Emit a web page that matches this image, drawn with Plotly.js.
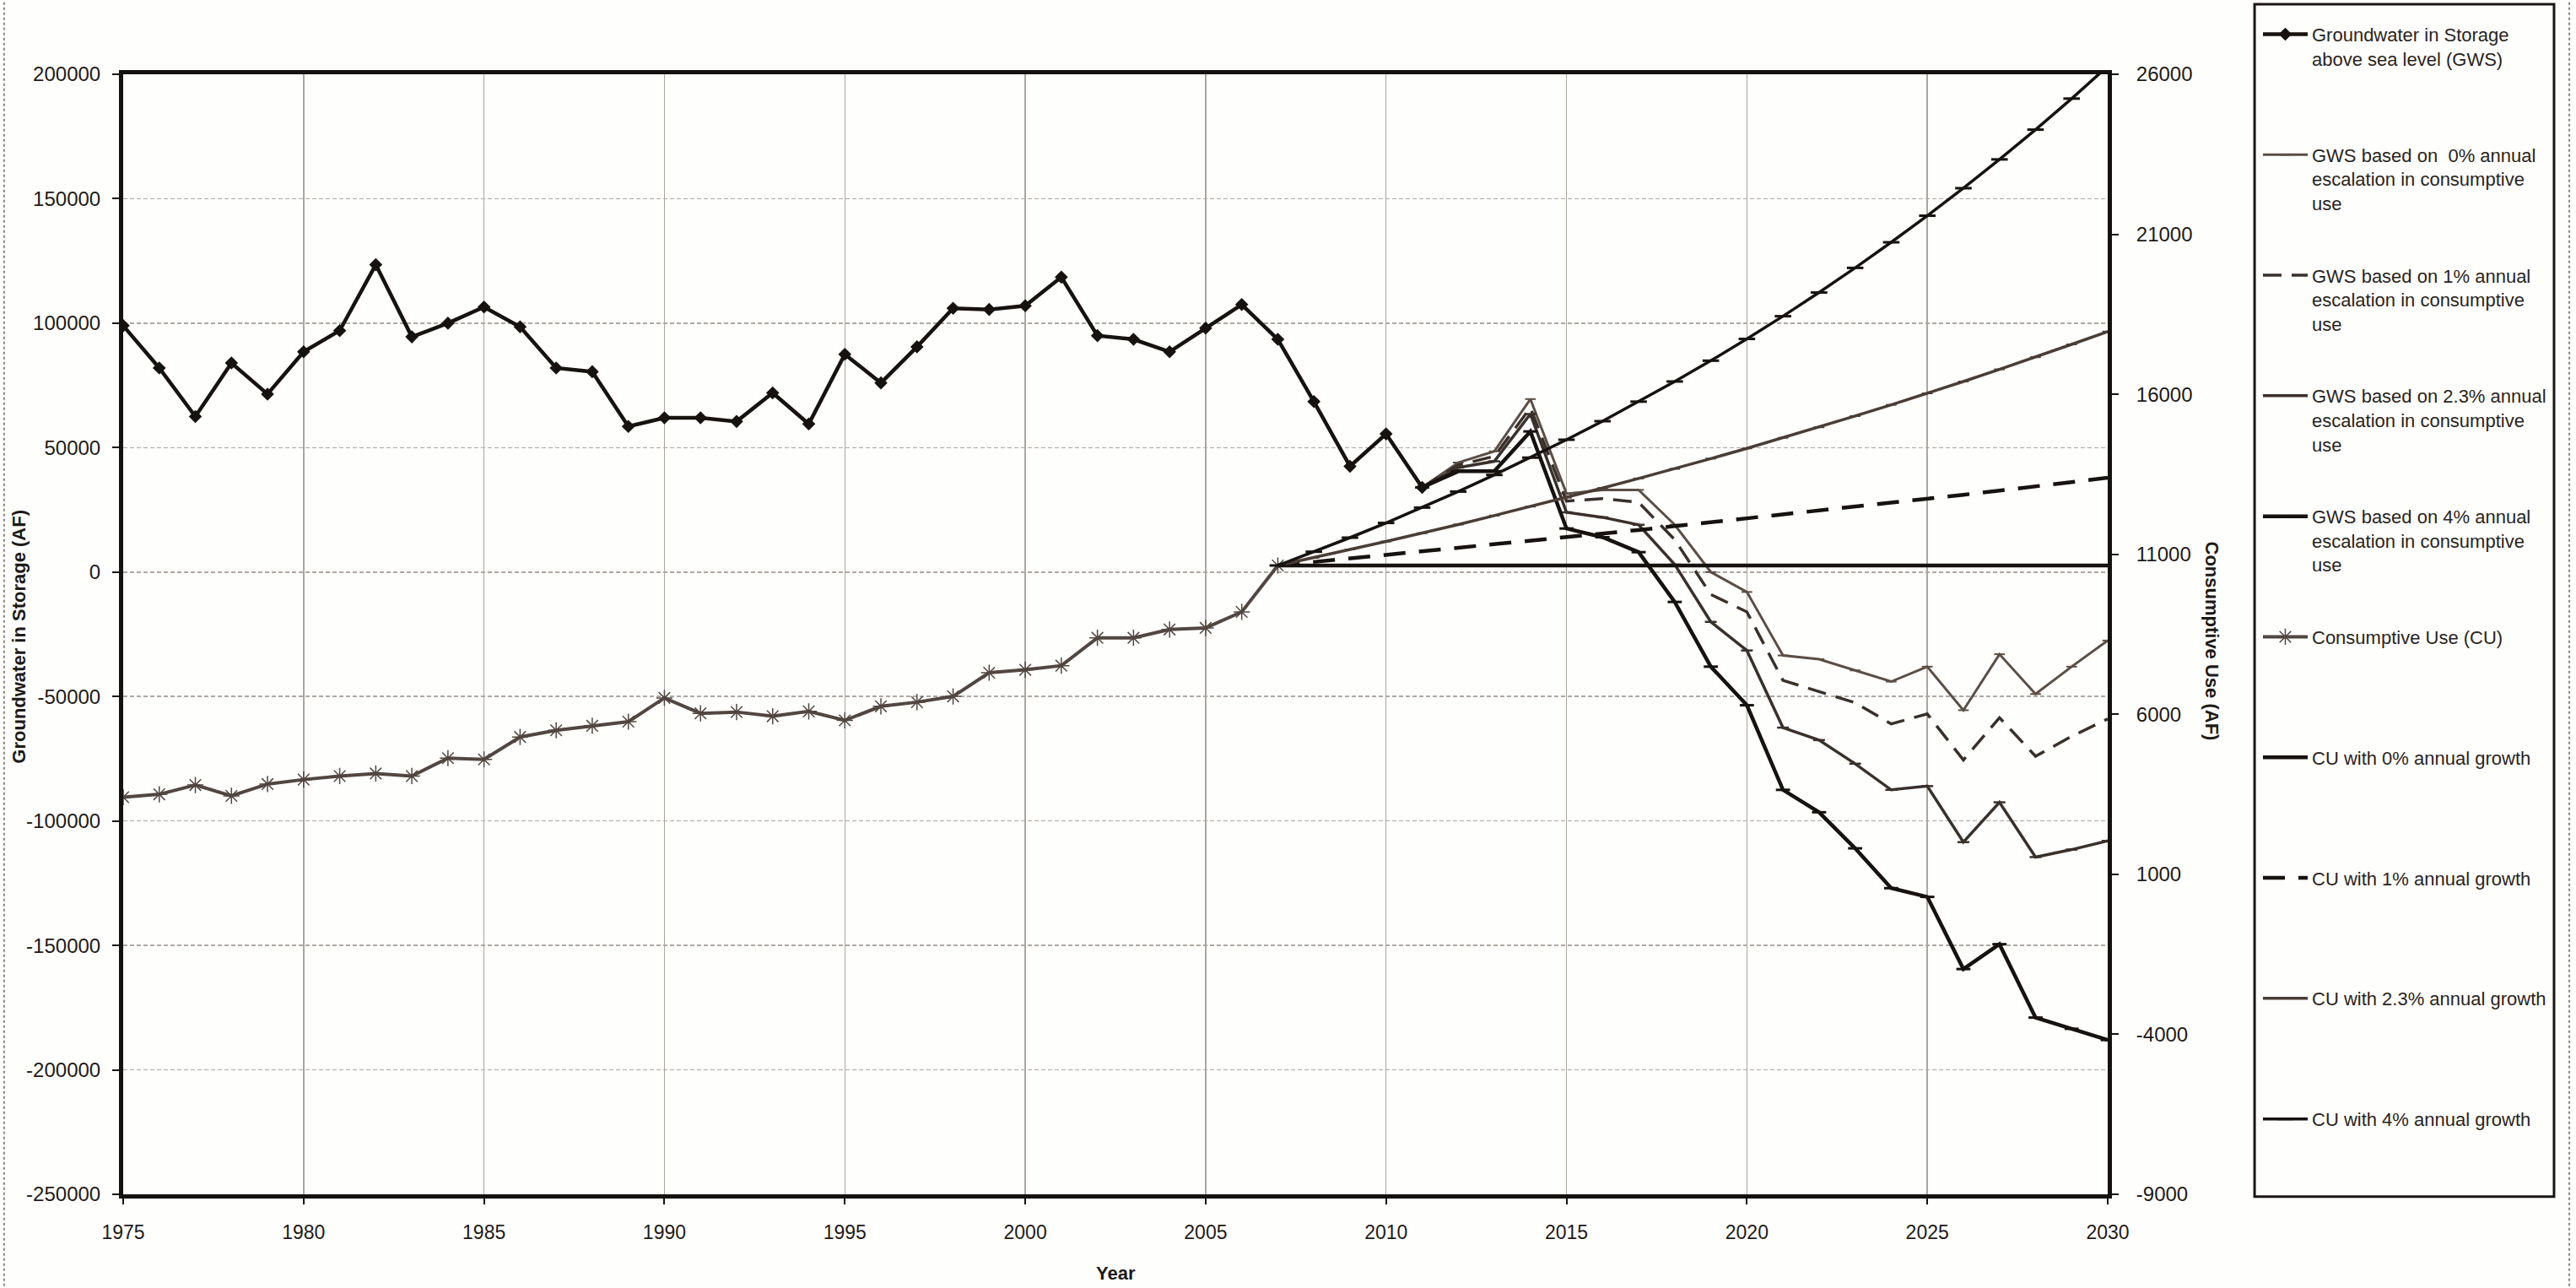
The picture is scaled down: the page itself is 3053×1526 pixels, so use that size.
<!DOCTYPE html>
<html>
<head>
<meta charset="utf-8">
<script src="https://cdn.plot.ly/plotly-3.0.1.min.js"></script>
<style>
  html, body { margin: 0; padding: 0; background: #fefefd; }
  #chart { width: 3053px; height: 1526px; }
</style>
</head>
<body>
<div id="chart"></div>
<script>
// ---------- DATA ----------
const yearsHist = [1975,1976,1977,1978,1979,1980,1981,1982,1983,1984,1985,1986,1987,1988,1989,1990,1991,1992,1993,1994,1995,1996,1997,1998,1999,2000,2001,2002,2003,2004,2005,2006,2007,2008,2009,2010,2011];
const gwsHist = [99000,82000,62500,84000,71500,88500,97000,123500,94500,100000,106500,98500,82000,80500,58500,62000,62000,60500,72000,59500,87500,76000,90500,106000,105500,107000,118500,95000,93500,88500,98000,107500,93500,68500,42500,55500,34000];

const yearsProj = [2011,2012,2013,2014,2015,2016,2017,2018,2019,2020,2021,2022,2023,2024,2025,2026,2027,2028,2029,2030];
const gws0 = [34000,44000,48500,69500,31500,33000,33000,19000,0,-8000,-33500,-35000,-39500,-44000,-38000,-55500,-33000,-49000,-38000,-27500];
const gws1 = [34000,43000,46500,66000,28500,29500,28000,13000,-9000,-16000,-43500,-48000,-52500,-61000,-57000,-75500,-58500,-74000,-66000,-59000];
const gws23 = [34000,42000,44500,63500,24000,22000,19000,3000,-20000,-31500,-62500,-67500,-77000,-87500,-86000,-108500,-92500,-114500,-111500,-108000];
const gws4 = [34000,40500,40500,56500,17500,14000,8000,-12000,-38000,-53500,-87500,-96500,-111000,-127000,-130500,-159500,-149500,-179000,-183500,-188000];

const yearsCU = [1975,1976,1977,1978,1979,1980,1981,1982,1983,1984,1985,1986,1987,1988,1989,1990,1991,1992,1993,1994,1995,1996,1997,1998,1999,2000,2001,2002,2003,2004,2005,2006,2007];
const cuHist = [3410,3500,3790,3450,3820,3960,4070,4150,4070,4630,4590,5290,5500,5640,5770,6510,6030,6070,5940,6090,5810,6250,6380,6560,7300,7390,7520,8390,8390,8650,8700,9200,10650];

const yearsCUProj = [2007,2008,2009,2010,2011,2012,2013,2014,2015,2016,2017,2018,2019,2020,2021,2022,2023,2024,2025,2026,2027,2028,2029,2030];
const cu0 = [10650,10650,10650,10650,10650,10650,10650,10650,10650,10650,10650,10650,10650,10650,10650,10650,10650,10650,10650,10650,10650,10650,10650,10650];
const cu1 = [10650,10760,10860,10970,11080,11190,11300,11420,11530,11650,11760,11880,12000,12120,12240,12360,12490,12610,12740,12860,12990,13120,13250,13390];
const cu23 = [10650,10890,11150,11400,11660,11930,12210,12490,12770,13070,13370,13670,13990,14310,14640,14970,15320,15670,16030,16400,16780,17160,17560,17960];
const cu4 = [10650,11080,11520,11980,12460,12960,13480,14020,14580,15160,15770,16400,17050,17730,18440,19180,19950,20750,21580,22440,23340,24270,25240,26250];

const xTicks = [1975,1980,1985,1990,1995,2000,2005,2010,2015,2020,2025,2030];
const xTickText = ['1975','1980','1985','1990','1995','2000','2005','2010','2015','2020','2025','2030'];
const yTicks = [200000,150000,100000,50000,0,-50000,-100000,-150000,-200000,-250000];
const yTickText = ['200000','150000','100000','50000','0','-50000','-100000','-150000','-200000','-250000'];
const y2Ticks = [26000,21000,16000,11000,6000,1000,-4000,-9000];
const y2TickText = ['26000','21000','16000','11000','6000','1000','-4000','-9000'];

const names = [
  'Groundwater in Storage<br>above sea level (GWS)<br>\u00a0',
  'GWS based on  0% annual<br>escalation in consumptive<br>use',
  'GWS based on 1% annual<br>escalation in consumptive<br>use',
  'GWS based on 2.3% annual<br>escalation in consumptive<br>use',
  'GWS based on 4% annual<br>escalation in consumptive<br>use',
  'Consumptive Use (CU)<br>\u00a0<br>\u00a0',
  'CU with 0% annual growth<br>\u00a0<br>\u00a0',
  'CU with 1% annual growth<br>\u00a0<br>\u00a0',
  'CU with 2.3% annual growth<br>\u00a0<br>\u00a0',
  'CU with 4% annual growth<br>\u00a0<br>\u00a0'
];

// ---------- TRACES ----------
const ink = '#17120f';
const traces = [
  {x: yearsHist, y: gwsHist, name: names[0], legendgroup: 'g0', mode: 'lines+markers', yaxis: 'y',
   line: {color: ink, width: 4.5}, marker: {symbol: 'diamond', size: 12, color: ink}},
  {x: yearsProj, y: gws0, name: names[1], legendgroup: 'g1', mode: 'lines+markers', yaxis: 'y',
   line: {color: '#5c4e45', width: 3}, marker: {symbol: 'line-ew', size: 9, line: {color: '#5c4e45', width: 2}}},
  {x: yearsProj, y: gws1, name: names[2], legendgroup: 'g2', mode: 'lines', yaxis: 'y',
   line: {color: '#3a302a', width: 3.5, dash: '22px,12px'}},
  {x: yearsProj, y: gws23, name: names[3], legendgroup: 'g3', mode: 'lines+markers', yaxis: 'y',
   line: {color: '#3a302a', width: 3.5}, marker: {symbol: 'line-ew', size: 10, line: {color: '#3a302a', width: 2.5}}},
  {x: yearsProj, y: gws4, name: names[4], legendgroup: 'g4', mode: 'lines+markers', yaxis: 'y',
   line: {color: ink, width: 4.5}, marker: {symbol: 'line-ew', size: 12, line: {color: ink, width: 3}}},
  {x: yearsCU, y: cuHist, name: names[5], legendgroup: 'g5', mode: 'lines+markers', yaxis: 'y2',
   line: {color: '#524640', width: 4}, marker: {symbol: 'asterisk-open', size: 16, line: {color: '#7a6c64', width: 1.5}}},
  {x: yearsCUProj, y: cu0, name: names[6], legendgroup: 'g6', mode: 'lines', yaxis: 'y2',
   line: {color: ink, width: 4.5}},
  {x: yearsCUProj, y: cu1, name: names[7], legendgroup: 'g7', mode: 'lines', yaxis: 'y2',
   line: {color: ink, width: 4.5, dash: '26px,16px'}},
  {x: yearsCUProj, y: cu23, name: names[8], legendgroup: 'g8', mode: 'lines+markers', yaxis: 'y2',
   line: {color: '#4a3d35', width: 3.5}, marker: {symbol: 'line-ew', size: 9, line: {color: '#4a3d35', width: 2}}},
  {x: yearsCUProj, y: cu4, name: names[9], legendgroup: 'g9', mode: 'lines+markers', yaxis: 'y2',
   line: {color: ink, width: 3.5}, marker: {symbol: 'line-ew', size: 14, line: {color: ink, width: 3}}}
];

// ---------- LAYOUT ----------
const axisInk = '#15110e';
const layout = {
  width: 3053, height: 1526,
  paper_bgcolor: '#fefefd', plot_bgcolor: '#fefefd',
  margin: {l: 146, r: 555, t: 88, b: 111, pad: 0},
  font: {family: 'Liberation Sans, Arial, sans-serif', color: '#1e1a17', size: 22},
  showlegend: true,
  legend: {
    x: 1.0761, xanchor: 'left', y: 1.0515, yanchor: 'top',
    bgcolor: 'rgba(0,0,0,0)', borderwidth: 0,
    font: {size: 22, color: '#2a2420'},
    itemwidth: 53, tracegroupgap: 54, valign: 'top', traceorder: 'grouped',
    maxheight: 1500
  },
  xaxis: {
    range: [1975, 2030], tickvals: xTicks, ticktext: xTickText,
    showgrid: true, gridcolor: '#aca69f', gridwidth: 1.5,
    showline: true, linecolor: axisInk, linewidth: 5, mirror: true,
    ticks: 'outside', ticklen: 7, tickwidth: 2, tickcolor: axisInk,
    tickfont: {size: 23}, ticklabelstandoff: 13, zeroline: false
  },
  yaxis: {
    range: [-250000, 200000], tickvals: yTicks, ticktext: yTickText,
    showgrid: true, gridcolor: '#aea8a2', gridwidth: 1.6, griddash: '5px,3px',
    showline: true, linecolor: axisInk, linewidth: 5,
    ticks: 'outside', ticklen: 8, tickwidth: 2, tickcolor: axisInk,
    tickfont: {size: 24}, ticklabelstandoff: 9, zeroline: false
  },
  yaxis2: {
    overlaying: 'y', side: 'right', range: [-9000, 26000],
    tickvals: y2Ticks, ticktext: y2TickText,
    showgrid: false, showline: true, linecolor: axisInk, linewidth: 5,
    ticks: 'outside', ticklen: 8, tickwidth: 2, tickcolor: axisInk,
    tickfont: {size: 24}, ticklabelstandoff: 16, zeroline: false
  },
  annotations: [
    {text: '<b>Year</b>', xref: 'paper', yref: 'paper', x: 0.5, y: -0.0708,
     showarrow: false, font: {size: 22}, xanchor: 'center', yanchor: 'middle'},
    {text: '<b>Groundwater in Storage (AF)</b>', xref: 'paper', yref: 'paper', x: -0.0525, y: 0.498,
     showarrow: false, textangle: -90, font: {size: 22}, xanchor: 'center', yanchor: 'middle'},
    {text: '<b>Consumptive Use (AF)</b>', xref: 'paper', yref: 'paper', x: 1.0527, y: 0.494,
     showarrow: false, textangle: 90, font: {size: 22}, xanchor: 'center', yanchor: 'middle'}
  ],
  shapes: [
    {type: 'rect', xref: 'paper', yref: 'paper', x0: 1.0740, x1: 1.2249, y0: -0.002, y1: 1.0625,
     line: {color: '#1a1613', width: 3}, fillcolor: 'rgba(0,0,0,0)'},
    {type: 'line', xref: 'paper', yref: 'paper', x0: -0.0600, x1: -0.0600, y0: -0.082, y1: 1.066,
     line: {color: '#8a847e', width: 2, dash: 'dot'}},
    {type: 'line', xref: 'paper', yref: 'paper', x0: 1.2326, x1: 1.2326, y0: -0.082, y1: 1.066,
     line: {color: '#8a847e', width: 2, dash: 'dot'}}
  ]
};

Plotly.newPlot('chart', traces, layout, {staticPlot: true, displayModeBar: false});
</script>
</body>
</html>
